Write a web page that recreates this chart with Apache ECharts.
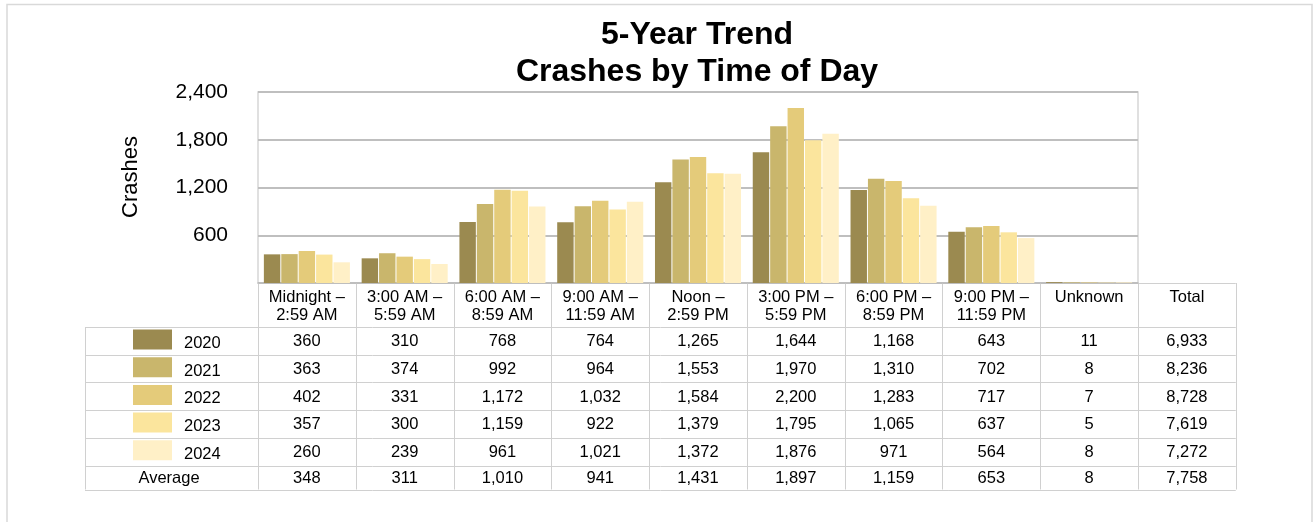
<!DOCTYPE html>
<html>
<head>
<meta charset="utf-8">
<script src="https://cdn.jsdelivr.net/npm/echarts@6/dist/echarts.min.js"></script>
<style>
html, body { margin: 0; padding: 0; background: #fff; }
#main { width: 1314px; height: 522px; }
</style>
</head>
<body>
<div id="main"></div>
<script>
// data
var categories = ['Midnight –\n2:59 AM', '3:00 AM –\n5:59 AM', '6:00 AM –\n8:59 AM', '9:00 AM –\n11:59 AM',
    'Noon –\n2:59 PM', '3:00 PM –\n5:59 PM', '6:00 PM –\n8:59 PM', '9:00 PM –\n11:59 PM', 'Unknown'];
var years = ['2020', '2021', '2022', '2023', '2024'];
var crashes2020 = [360, 310, 768, 764, 1265, 1644, 1168, 643, 11];
var crashes2021 = [363, 374, 992, 964, 1553, 1970, 1310, 702, 8];
var crashes2022 = [402, 331, 1172, 1032, 1584, 2200, 1283, 717, 7];
var crashes2023 = [357, 300, 1159, 922, 1379, 1795, 1065, 637, 5];
var crashes2024 = [260, 239, 961, 1021, 1372, 1876, 971, 564, 8];
var yearTotals = [6933, 8236, 8728, 7619, 7272];
var average = [348, 311, 1010, 941, 1431, 1897, 1159, 653, 8];
var averageTotal = 7758;
var yTicks = [0, 600, 1200, 1800, 2400];

var seriesData = [crashes2020, crashes2021, crashes2022, crashes2023, crashes2024];
var colors = ['#9b8a50', '#c9b66c', '#e4cb7a', '#fbe59d', '#fff0c7'];
var FONT = '"Liberation Sans", Arial, sans-serif';

function fmt(n) {
    return n.toLocaleString('en-US');
}

var chart = echarts.init(document.getElementById('main'));

var series = [];
years.forEach(function (y, i) {
    series.push({
        name: y,
        type: 'bar',
        data: seriesData[i],
        barGap: '6%',
        barCategoryGap: '12%',
        itemStyle: { color: colors[i] },
        silent: true
    });
});

var option = {
    backgroundColor: '#fff',
    animation: false,
    title: {
        text: '5-Year Trend\nCrashes by Time of Day',
        left: 692,
        top: 12,
        textAlign: 'center',
        textStyle: {
            fontFamily: FONT,
            fontSize: 32,
            fontWeight: 'bold',
            color: '#000',
            lineHeight: 37
        }
    },
    grid: {
        left: 258,
        right: 176,
        top: 92,
        bottom: 239,
        show: true,
        borderColor: '#d6d6d6',
        borderWidth: 1.5,
        containLabel: false,
        outerBoundsMode: 'none'
    },
    xAxis: {
        type: 'category',
        data: categories,
        axisLine: { lineStyle: { color: '#bfbfbf', width: 1.5 } },
        axisTick: { show: false },
        axisLabel: { show: false },
        splitLine: { show: false }
    },
    yAxis: {
        type: 'value',
        min: yTicks[0],
        max: yTicks[yTicks.length - 1],
        interval: yTicks[1] - yTicks[0],
        axisLine: { show: false },
        axisTick: { show: false },
        axisLabel: {
            margin: 30,
            fontFamily: FONT,
            fontSize: 21,
            color: '#000',
            formatter: function (v) { return v === 0 ? '' : fmt(v); }
        },
        splitLine: { lineStyle: { color: '#bfbfbf', width: 2 } }
    },
    series: series
};

chart.setOption(option);

// data table under the plot, laid out on the category axis
function buildTable() {
    var c0 = chart.convertToPixel({ xAxisIndex: 0 }, 0);
    var c1 = chart.convertToPixel({ xAxisIndex: 0 }, 1);
    var bw = c1 - c0;
    var left = c0 - bw / 2;
    var base = chart.convertToPixel({ yAxisIndex: 0 }, 0);
    var nCols = categories.length + 1; // + Total
    var right = left + nCols * bw;
    var headLeft = 85;
    var headBottom = 327;
    var rowH = 27.7;
    var rowTops = [];
    for (var r = 0; r < 6; r++) rowTops.push(headBottom + r * rowH);
    var bottom = 489.5;
    var line = '#d0d0d0';
    var els = [];

    function px(v) { return Math.round(v) + 0.5; }
    function hline(x1, x2, y) {
        els.push({ type: 'line', silent: true, shape: { x1: x1, y1: px(y), x2: x2, y2: px(y) },
            style: { stroke: line, lineWidth: 1 } });
    }
    function vline(x, y1, y2) {
        els.push({ type: 'line', silent: true, shape: { x1: px(x), y1: y1, x2: px(x), y2: y2 },
            style: { stroke: line, lineWidth: 1 } });
    }
    function text(s, x, y, align, va) {
        els.push({ type: 'text', silent: true, style: {
            text: s, x: x, y: y, textAlign: align || 'center', textVerticalAlign: va || 'middle',
            font: '16.5px ' + FONT, fill: '#000', lineHeight: 18.5 } });
    }

    // outer frame
    els.push({ type: 'rect', silent: true, shape: { x: 7, y: 4.5, width: 1305, height: 540 },
        style: { fill: null, stroke: '#d9d9d9', lineWidth: 1.5 } });

    // grid lines
    rowTops.forEach(function (y) { hline(headLeft, right, y); });
    hline(headLeft, right, bottom);
    hline(left + categories.length * bw, right, base);
    vline(headLeft, headBottom, bottom);
    for (var k = 0; k <= nCols; k++) {
        vline(left + k * bw, base, bottom);
    }

    // header texts
    var heads = categories.concat(['Total']);
    heads.forEach(function (h, i) {
        text(h, left + (i + 0.5) * bw, 288, 'center', 'top');
    });

    // year rows
    years.forEach(function (y, r) {
        var top = rowTops[r];
        var cy = top + rowH / 2 + 1;
        els.push({ type: 'rect', silent: true,
            shape: { x: 133, y: top + 2.5, width: 39, height: 20 },
            style: { fill: colors[r] } });
        text(y, 184, cy + 1.5, 'left');
        seriesData[r].forEach(function (v, i) {
            text(fmt(v), left + (i + 0.5) * bw, cy);
        });
        text(fmt(yearTotals[r]), left + (categories.length + 0.5) * bw, cy);
    });

    // average row
    var ay = (rowTops[5] + bottom) / 2 + 1;
    text('Average', 169, ay);
    average.forEach(function (v, i) {
        text(fmt(v), left + (i + 0.5) * bw, ay);
    });
    text(fmt(averageTotal), left + (categories.length + 0.5) * bw, ay);

    // y axis title
    els.push({ type: 'text', silent: true, x: 131, y: 177, rotation: Math.PI / 2,
        style: { text: 'Crashes', x: 0, y: 0, textAlign: 'center', textVerticalAlign: 'middle',
            font: '22px ' + FONT, fill: '#000' } });

    chart.setOption({ graphic: { elements: els } });
}

buildTable();
</script>
</body>
</html>
